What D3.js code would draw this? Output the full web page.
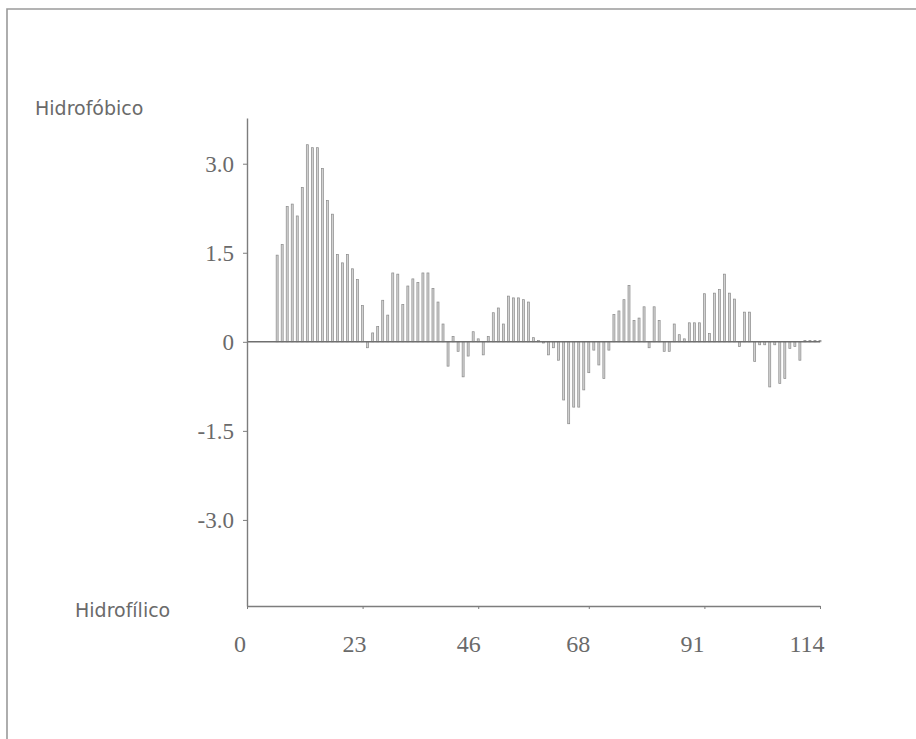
<!DOCTYPE html>
<html>
<head>
<meta charset="utf-8">
<script src="https://cdn.jsdelivr.net/npm/d3@7"></script>
<style>
  body { margin: 0; background: #fff; }
  svg { display: block; }
</style>
</head>
<body>
<div id="chart-area"></div>
<script>
// hydropathy value per residue (0..114)
var residues = d3.range(0, 115);
var values = [
  0, 0, 0, 0, 0, 0, 1.46, 1.64, 2.28, 2.32,
  2.12, 2.60, 3.32, 3.27, 3.27, 2.92, 2.38, 2.15, 1.47, 1.33,
  1.47, 1.23, 1.05, 0.61, -0.10, 0.15, 0.26, 0.70, 0.45, 1.16,
  1.14, 0.63, 0.94, 1.06, 1.00, 1.16, 1.16, 0.90, 0.67, 0.30,
  -0.41, 0.09, -0.16, -0.59, -0.24, 0.17, 0.05, -0.22, 0.09, 0.49,
  0.57, 0.30, 0.77, 0.74, 0.74, 0.71, 0.67, 0.07, 0.02, -0.02,
  -0.22, -0.10, -0.31, -0.98, -1.38, -1.10, -1.10, -0.81, -0.52, -0.14,
  -0.39, -0.62, -0.14, 0.46, 0.52, 0.71, 0.95, 0.36, 0.40, 0.59,
  -0.10, 0.59, 0.36, -0.16, -0.16, 0.30, 0.12, 0.05, 0.32, 0.32,
  0.32, 0.81, 0.14, 0.82, 0.88, 1.14, 0.82, 0.72, -0.08, 0.50,
  0.50, -0.33, -0.05, -0.05, -0.76, -0.05, -0.70, -0.62, -0.11, -0.08,
  -0.31, 0.02, 0.02, 0.02, 0.02
];
var xTicks = [0, 23, 46, 68, 91, 114];
var yTicks = [3.0, 1.5, 0, -1.5, -3.0];
var yTickLabels = ["3.0", "1.5", "0", "-1.5", "-3.0"];

var svg = d3.select("#chart-area")
  .append("svg")
  .attr("width", 916)
  .attr("height", 739);

// scanned page frame
svg.append("path")
  .attr("d", "M7,739 L7,9 L916,9")
  .attr("fill", "none")
  .attr("stroke", "#9a9a9a")
  .attr("stroke-width", 1.6);

var x = d3.scaleLinear()
  .domain([0, 114])
  .range([247, 820]);

var y = d3.scaleLinear()
  .domain([-4.45, 3.77])
  .range([606, 118]);

// label positions in the scan drift from the tick marks
var xLab = d3.scaleLinear()
  .domain([0, 114])
  .range([240, 807]);

var grey = "#7d7d7d";

// Bars
svg.selectAll("rect.bar")
  .data(residues)
  .enter()
  .append("rect")
  .attr("class", "bar")
  .attr("x", d => x(d) - 1)
  .attr("y", d => y(Math.max(0, values[d])))
  .attr("width", 2)
  .attr("height", d => Math.abs(y(values[d]) - y(0)))
  .attr("fill", "#d2d2d2")
  .attr("stroke", "#8a8a8a")
  .attr("stroke-width", 0.7);

// zero line
svg.append("line")
  .attr("x1", x(0))
  .attr("x2", x(114))
  .attr("y1", y(0))
  .attr("y2", y(0))
  .attr("stroke", "#6f6f6f")
  .attr("stroke-width", 1.6);

// Y Axis
var yAxisCall = d3.axisLeft(y)
  .tickValues(yTicks)
  .tickSize(4)
  .tickSizeOuter(0)
  .tickFormat("");
var yAxis = svg.append("g")
  .attr("transform", "translate(" + x(0) + ",0)")
  .call(yAxisCall);
yAxis.select(".domain").attr("stroke", grey).attr("stroke-width", 1.4);
yAxis.selectAll(".tick line").attr("stroke", grey);

svg.selectAll("text.ylab")
  .data(yTicks)
  .enter()
  .append("text")
  .attr("class", "ylab")
  .attr("x", 234)
  .attr("y", d => y(d) + 8)
  .attr("text-anchor", "end")
  .attr("font-family", "Liberation Serif, DejaVu Serif, serif")
  .attr("font-size", "23px")
  .attr("fill", "#6a6a6a")
  .text((d, i) => yTickLabels[i]);

// X Axis
var xAxisCall = d3.axisBottom(x)
  .tickValues(xTicks)
  .tickSize(3)
  .tickSizeOuter(0)
  .tickFormat("");
var xAxis = svg.append("g")
  .attr("transform", "translate(0," + y(-4.45) + ")")
  .call(xAxisCall);
xAxis.select(".domain").attr("stroke", grey).attr("stroke-width", 1.4);
xAxis.selectAll(".tick line").attr("stroke", grey);

svg.selectAll("text.xlab")
  .data(xTicks)
  .enter()
  .append("text")
  .attr("class", "xlab")
  .attr("x", d => xLab(d))
  .attr("y", 652)
  .attr("text-anchor", "middle")
  .attr("font-family", "Liberation Serif, DejaVu Serif, serif")
  .attr("font-size", "24px")
  .attr("fill", "#6a6a6a")
  .text(d => d);

// end labels
svg.append("text")
  .attr("x", 35)
  .attr("y", 115)
  .attr("font-family", "DejaVu Sans, sans-serif")
  .attr("font-size", "19px")
  .attr("fill", "#6a6a6a")
  .text("Hidrofóbico");

svg.append("text")
  .attr("x", 75)
  .attr("y", 617)
  .attr("font-family", "DejaVu Sans, sans-serif")
  .attr("font-size", "19px")
  .attr("fill", "#6a6a6a")
  .text("Hidrofílico");
</script>
</body>
</html>
